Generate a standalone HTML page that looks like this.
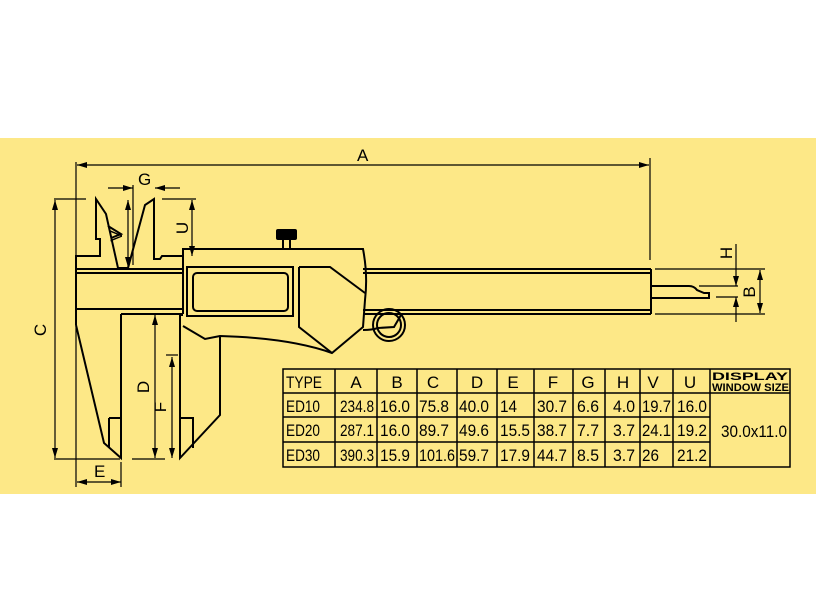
<!DOCTYPE html>
<html><head><meta charset="utf-8"><style>
html,body{margin:0;padding:0;background:#fff;}
svg{display:block;}
text{font-family:"Liberation Sans",sans-serif;}
</style></head><body>
<svg width="816" height="600" viewBox="0 0 816 600" xmlns="http://www.w3.org/2000/svg">
<rect x="0" y="138" width="816" height="356" fill="#fde887"/>
<defs>
<marker id="ar" viewBox="0 0 10 6" refX="10" refY="3" markerWidth="10" markerHeight="6" orient="auto-start-reverse" markerUnits="userSpaceOnUse"><path d="M0,0 L10,3 L0,6 z" fill="#000"/></marker>
</defs>
<g stroke="#000" fill="none" stroke-width="2">
<line x1="76" y1="269" x2="183" y2="269"/>
<line x1="76" y1="273" x2="183" y2="273"/>
<line x1="76" y1="309" x2="183" y2="309"/>
<line x1="121" y1="314" x2="183" y2="314"/>
<line x1="363" y1="269" x2="651" y2="269"/>
<line x1="363" y1="273" x2="651" y2="273"/>
<line x1="363" y1="310" x2="651" y2="310"/>
<line x1="363" y1="314" x2="651" y2="314"/>
<line x1="651" y1="269" x2="651" y2="314"/>
<path d="M651,286 L689,286 Q694,286 697,290 L704,293 L709,293 L709,298 L651,298"/>
<path d="M76,325 L76,256 L100,256 L100,239 L96,239 L96,199 L106,214 L118,268 L128,268 L145,205 L154,199 L154,259 L160,259 L162,256 L183,256"/>
<path d="M76,325 L104,443 L121,458 L121,314"/>
<path d="M109,418 L109,448 M109,418 L121,418"/>
<path d="M108,226 L121,234 L111,238"/>
<path d="M183,314 L183,249 L363,249 Q368,275 365,300 L363,327 L332,353 Q290,338 220,336 L205,339 L183,326"/>
<rect x="187" y="267" width="106" height="49"/>
<rect x="193" y="273" width="95" height="38" rx="4"/>
<path d="M299,267 L330,267 L365,293 M299,267 L299,327 L332,353"/>
<path d="M220,336 L220,415 L180,458 L180,315 L183,315"/>
<path d="M180,418 L193,418 L193,448"/>
<circle cx="389" cy="325" r="16"/>
<circle cx="389" cy="325" r="12"/>
<path d="M378,328 L394,327 L401,315 M363,330 Q372,330 378,328"/>
</g>
<rect x="276" y="229" width="21" height="11" rx="2" fill="#000"/>
<g stroke="#000" stroke-width="2"><line x1="283" y1="240" x2="283" y2="249"/><line x1="290" y1="240" x2="290" y2="249"/></g>
<g stroke="#000" stroke-width="1.2" fill="none">
<line x1="76" y1="162" x2="76" y2="487"/>
<line x1="650" y1="158" x2="650" y2="260"/>
<line x1="77" y1="165" x2="649" y2="165" marker-start="url(#ar)" marker-end="url(#ar)"/>
<line x1="54" y1="199" x2="86" y2="199"/>
<line x1="54" y1="459" x2="120" y2="459"/>
<line x1="55" y1="200" x2="55" y2="458" marker-start="url(#ar)" marker-end="url(#ar)"/>
<line x1="77" y1="482" x2="121" y2="482" marker-start="url(#ar)" marker-end="url(#ar)"/>
<line x1="121" y1="462" x2="121" y2="487"/>
<line x1="108" y1="188" x2="133" y2="188" marker-end="url(#ar)"/>
<line x1="155" y1="188" x2="180" y2="188" marker-start="url(#ar)"/>
<line x1="133" y1="185" x2="133" y2="265"/>
<line x1="128" y1="200" x2="128" y2="267" marker-start="url(#ar)" marker-end="url(#ar)"/>
<line x1="162" y1="199" x2="196" y2="199"/>
<line x1="192" y1="200" x2="192" y2="256" marker-start="url(#ar)" marker-end="url(#ar)"/>
<line x1="155" y1="315" x2="155" y2="458" marker-start="url(#ar)" marker-end="url(#ar)"/>
<line x1="132" y1="459" x2="165" y2="459"/>
<line x1="172" y1="357" x2="172" y2="458" marker-start="url(#ar)" marker-end="url(#ar)"/>
<line x1="166" y1="355" x2="178" y2="355"/>
<line x1="655" y1="269" x2="765" y2="269"/>
<line x1="655" y1="314" x2="765" y2="314"/>
<line x1="699" y1="286" x2="738" y2="286"/>
<line x1="716" y1="297" x2="738" y2="297"/>
<line x1="736" y1="244" x2="736" y2="286" marker-end="url(#ar)"/>
<line x1="736" y1="297" x2="736" y2="322" marker-start="url(#ar)"/>
<line x1="760" y1="270" x2="760" y2="313" marker-start="url(#ar)" marker-end="url(#ar)"/>
</g>
<g font-size="17" fill="#000">
<text x="357" y="161">A</text>
<text x="138" y="185">G</text>
<text x="94" y="477">E</text>
<text transform="translate(46,330) rotate(-90)" text-anchor="middle">C</text>
<text transform="translate(149,387) rotate(-90)" text-anchor="middle">D</text>
<text transform="translate(166,407) rotate(-90)" text-anchor="middle">F</text>
<text transform="translate(188,228) rotate(-90)" text-anchor="middle">U</text>
<text transform="translate(122,236) rotate(-90)" text-anchor="middle">V</text>
<text transform="translate(732,253) rotate(-90)" text-anchor="middle">H</text>
<text transform="translate(755,292) rotate(-90)" text-anchor="middle">B</text>
</g>
<g stroke="#000" stroke-width="1.5">
<rect x="283" y="369" width="507" height="98" fill="none"/>
<line x1="283" y1="393" x2="790" y2="393"/>
<line x1="283" y1="417" x2="710" y2="417"/>
<line x1="283" y1="442" x2="710" y2="442"/>
<line x1="335" y1="369" x2="335" y2="467"/><line x1="377" y1="369" x2="377" y2="467"/>
<line x1="417" y1="369" x2="417" y2="467"/><line x1="457" y1="369" x2="457" y2="467"/>
<line x1="497" y1="369" x2="497" y2="467"/><line x1="534" y1="369" x2="534" y2="467"/>
<line x1="573" y1="369" x2="573" y2="467"/><line x1="605" y1="369" x2="605" y2="467"/>
<line x1="640" y1="369" x2="640" y2="467"/><line x1="673" y1="369" x2="673" y2="467"/>
<line x1="710" y1="369" x2="710" y2="467"/>
</g>
<g font-size="17" fill="#000">
<text x="286" y="388" textLength="36" lengthAdjust="spacingAndGlyphs">TYPE</text>
<text x="356" y="388" text-anchor="middle">A</text><text x="397" y="388" text-anchor="middle">B</text>
<text x="433" y="388" text-anchor="middle">C</text><text x="477" y="388" text-anchor="middle">D</text>
<text x="513" y="388" text-anchor="middle">E</text><text x="553" y="388" text-anchor="middle">F</text>
<text x="588" y="388" text-anchor="middle">G</text><text x="623" y="388" text-anchor="middle">H</text>
<text x="653" y="388" text-anchor="middle">V</text><text x="690" y="388" text-anchor="middle">U</text>
<text x="712" y="380" font-size="11" font-weight="bold" textLength="76" lengthAdjust="spacingAndGlyphs">DISPLAY</text>
<text x="712" y="391" font-size="11" font-weight="bold" textLength="77" lengthAdjust="spacingAndGlyphs">WINDOW SIZE</text>
<text x="286" y="412" textLength="34" lengthAdjust="spacingAndGlyphs">ED10</text><text x="340" y="412" textLength="34" lengthAdjust="spacingAndGlyphs">234.8</text><text x="380" y="412" textLength="30" lengthAdjust="spacingAndGlyphs">16.0</text><text x="419" y="412" textLength="30" lengthAdjust="spacingAndGlyphs">75.8</text><text x="459" y="412" textLength="30" lengthAdjust="spacingAndGlyphs">40.0</text><text x="500" y="412" textLength="17" lengthAdjust="spacingAndGlyphs">14</text><text x="537" y="412" textLength="30" lengthAdjust="spacingAndGlyphs">30.7</text><text x="577" y="412" textLength="22" lengthAdjust="spacingAndGlyphs">6.6</text><text x="613" y="412" textLength="22" lengthAdjust="spacingAndGlyphs">4.0</text><text x="642" y="412" textLength="29" lengthAdjust="spacingAndGlyphs">19.7</text><text x="677" y="412" textLength="30" lengthAdjust="spacingAndGlyphs">16.0</text>
<text x="286" y="436" textLength="34" lengthAdjust="spacingAndGlyphs">ED20</text><text x="340" y="436" textLength="34" lengthAdjust="spacingAndGlyphs">287.1</text><text x="380" y="436" textLength="30" lengthAdjust="spacingAndGlyphs">16.0</text><text x="419" y="436" textLength="30" lengthAdjust="spacingAndGlyphs">89.7</text><text x="459" y="436" textLength="30" lengthAdjust="spacingAndGlyphs">49.6</text><text x="500" y="436" textLength="30" lengthAdjust="spacingAndGlyphs">15.5</text><text x="537" y="436" textLength="30" lengthAdjust="spacingAndGlyphs">38.7</text><text x="577" y="436" textLength="22" lengthAdjust="spacingAndGlyphs">7.7</text><text x="613" y="436" textLength="22" lengthAdjust="spacingAndGlyphs">3.7</text><text x="642" y="436" textLength="29" lengthAdjust="spacingAndGlyphs">24.1</text><text x="677" y="436" textLength="30" lengthAdjust="spacingAndGlyphs">19.2</text>
<text x="286" y="461" textLength="34" lengthAdjust="spacingAndGlyphs">ED30</text><text x="340" y="461" textLength="34" lengthAdjust="spacingAndGlyphs">390.3</text><text x="380" y="461" textLength="30" lengthAdjust="spacingAndGlyphs">15.9</text><text x="419" y="461" textLength="36" lengthAdjust="spacingAndGlyphs">101.6</text><text x="459" y="461" textLength="30" lengthAdjust="spacingAndGlyphs">59.7</text><text x="500" y="461" textLength="30" lengthAdjust="spacingAndGlyphs">17.9</text><text x="537" y="461" textLength="30" lengthAdjust="spacingAndGlyphs">44.7</text><text x="577" y="461" textLength="22" lengthAdjust="spacingAndGlyphs">8.5</text><text x="613" y="461" textLength="22" lengthAdjust="spacingAndGlyphs">3.7</text><text x="642" y="461" textLength="17" lengthAdjust="spacingAndGlyphs">26</text><text x="677" y="461" textLength="30" lengthAdjust="spacingAndGlyphs">21.2</text>
<text x="721" y="437" textLength="66" lengthAdjust="spacingAndGlyphs">30.0x11.0</text>
</g>
</svg>
</body></html>
